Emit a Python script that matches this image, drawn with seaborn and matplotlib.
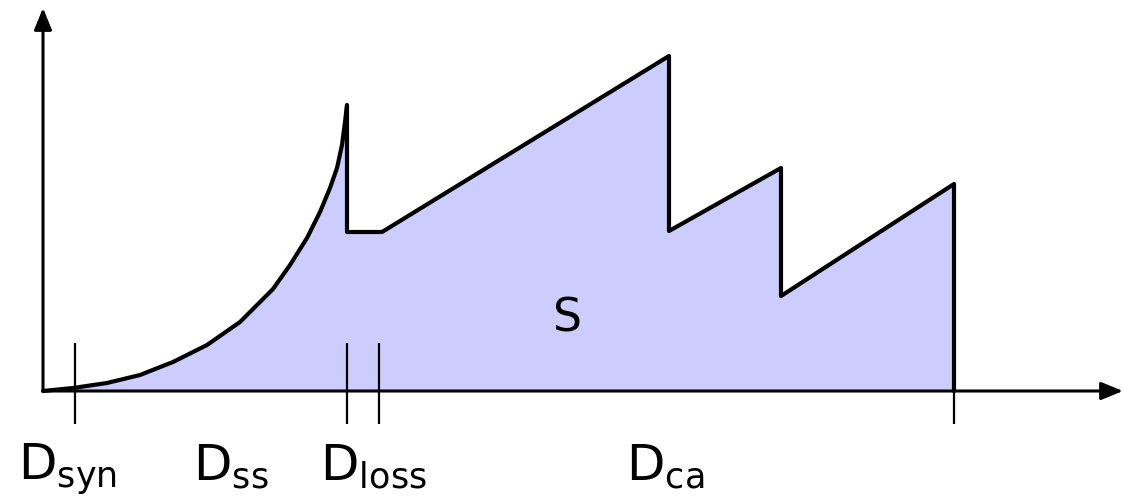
import numpy as np
import pandas as pd
import seaborn as sns
import matplotlib
matplotlib.use("Agg")
import matplotlib.pyplot as plt

# outline of the shaded profile, x from the origin, y above axis
curve_x = [0, 30, 64, 97, 130, 164, 197, 230, 247, 264, 277, 287, 294, 299, 302, 304]
curve_y = [0, 3, 8, 16, 29, 46, 69, 102, 126, 153, 179, 203, 223, 246, 269, 286]
saw_x = [304, 339, 626, 626, 738, 738, 911, 911]
saw_y = [159, 159, 335, 160, 223, 95, 207, 0]

# tick marks on the horizontal axis
tick_x = [32, 304, 336, 911]
tick_top = [48, 48, 48, 0]
tick_bottom = -33

labels = ["syn", "ss", "loss", "ca"]
label_x = [-25, 150, 277, 583]

sns.set_theme(style="white")
plt.rcParams['font.family'] = ['DejaVu Sans']
plt.rcParams['mathtext.fontset'] = 'dejavusans'

prof = pd.DataFrame({"x": curve_x + saw_x, "y": curve_y + saw_y})

fig = plt.figure(figsize=(11.23, 4.97), dpi=100)
ax = fig.add_axes([0, 0, 1, 1])
ax.set_xlim(-43, 1080)
ax.set_ylim(-106, 391)
ax.axis("off")

ax.fill(list(prof.x) + [0], list(prof.y) + [0], color="#ccccff", lw=0, zorder=1)
sns.lineplot(data=prof, x="x", y="y", sort=False, estimator=None,
             color="black", lw=3, ax=ax, zorder=3)
ax.lines[-1].set_solid_joinstyle("round")

# axes with arrow heads
arrow = dict(arrowstyle="-|>,head_length=1.1,head_width=0.45", color="black", lw=2.2, shrinkA=0, shrinkB=0)
ax.annotate("", xy=(1080, 0), xytext=(0, 0), arrowprops=arrow, zorder=4)
ax.annotate("", xy=(0, 383), xytext=(0, 0), arrowprops=arrow, zorder=4)

ax.vlines(tick_x, tick_bottom, tick_top, color="black", lw=1.6, zorder=4)

for lab, lx in zip(labels, label_x):
    ax.text(lx, -89, r"D$_\mathregular{%s}$" % lab, fontsize=36, color="black",
            ha="left", va="baseline")

ax.text(524, 72, "S", fontsize=33, color="black", ha="center", va="center")

fig.savefig("out.png", dpi=100)
